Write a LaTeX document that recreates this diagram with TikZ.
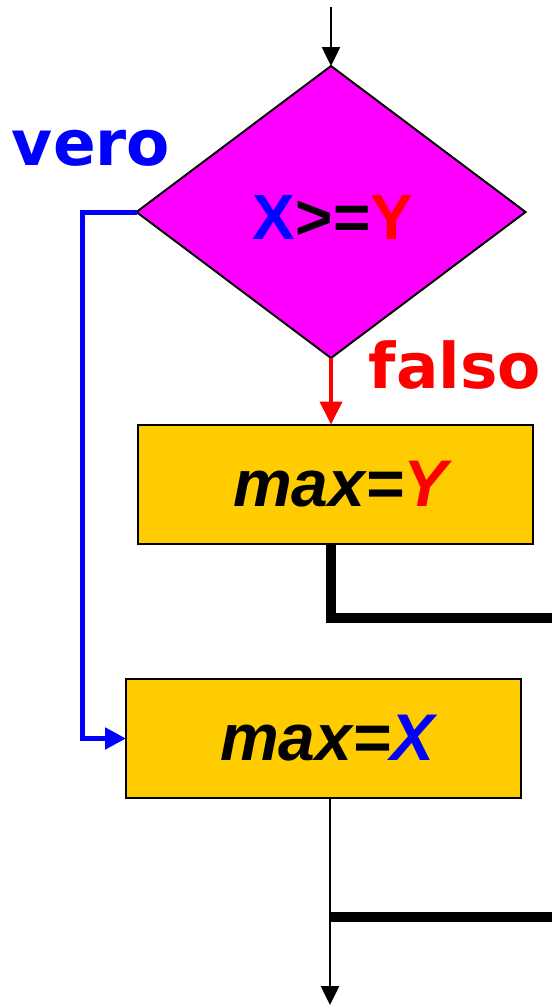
\documentclass[tikz,border=0pt]{standalone}
\usepackage{fontspec}
\setmainfont{Liberation Sans}
\newfontfamily\dejavu{DejaVu Sans}
\usetikzlibrary{shapes.geometric,arrows.meta}
\definecolor{dmag}{HTML}{FF00FF}
\definecolor{boxy}{HTML}{FFCC00}
\definecolor{pblue}{HTML}{0000FF}
\definecolor{pred}{HTML}{FF0000}
\tikzset{
  decision/.style={diamond, draw=black, line width=2pt, fill=dmag, minimum width=389pt, minimum height=292pt, inner sep=0pt, outer sep=0pt},
  procbox/.style={rectangle, draw=black, line width=2pt, fill=boxy, minimum width=395pt, minimum height=119pt, inner sep=0pt, outer sep=0pt, font=\fontsize{66}{70}\selectfont\bfseries\itshape},
  condtext/.style={font=\fontsize{64}{70}\selectfont\bfseries, inner sep=0pt},
  branchlabel/.style={font=\dejavu\fontsize{63}{70}\selectfont\bfseries, inner sep=0pt},
  thinflow/.style={draw=black, line width=2.5pt, -{Triangle[length=19pt,width=18pt]}},
  thickjoin/.style={draw=black, line width=10pt},
}
\begin{document}
\begin{tikzpicture}[x=1pt,y=-1pt]
\useasboundingbox (0,0) rectangle (552,1005);
% nodes
\node[decision] (d) at (331,212) {};
\node[condtext, anchor=base] (cond) at (333,239) {\textcolor{pblue}{X}>=\textcolor{pred}{Y}};
\node[procbox] (b1) at (335.5,484) {\hspace{10pt}max=\textcolor{pred}{Y}};
\node[procbox] (b2) at (323.5,738.5) {\hspace{8pt}max=\textcolor{pblue}{X}};
\node[branchlabel, text=pblue, anchor=base] (vero) at (91,165) {vero};
\node[branchlabel, text=pred, anchor=base] (falso) at (455,388) {falso};
% coordinates
\coordinate (start) at (331,7);
\coordinate (vc2) at (82,738.5);
\coordinate (j1a) at (331,618);
\coordinate (j1b) at (552,618);
\coordinate (j2a) at (330,917);
\coordinate (j2b) at (552,917);
\coordinate (endpt) at (330,1005);
% connectors
\draw[thinflow] (start) -- (d.north);
\draw[draw=pred, line width=4pt, -{Triangle[length=23pt,width=22pt]}] (d.south) -- (d.south |- b1.north);
\draw[draw=pblue, line width=5pt, -{Triangle[length=21pt,width=21pt]}] (d.west) -- (d.west -| vc2) -- (vc2) -- (b2.west);
\draw[thickjoin] (b1.south -| j1a) -- (j1a) -- (j1b);
\draw[thinflow] (b2.south -| endpt) -- (endpt);
\draw[thickjoin] (j2a) -- (j2b);
\end{tikzpicture}
\end{document}
